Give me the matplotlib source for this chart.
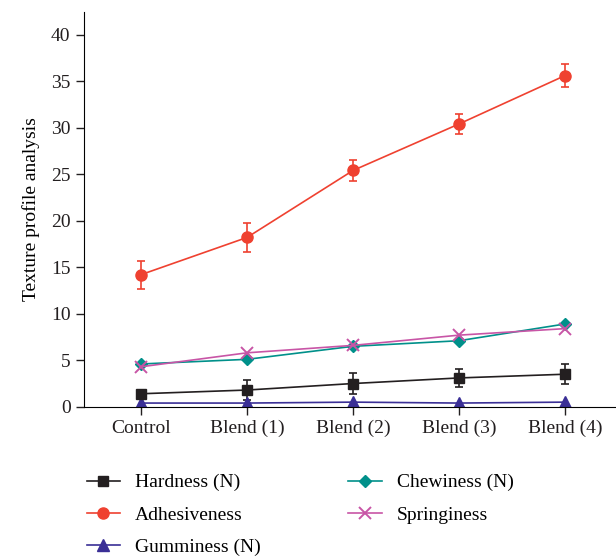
import matplotlib
matplotlib.use("Agg")
import matplotlib.pyplot as plt
from matplotlib.lines import Line2D

categories = ["Control", "Blend (1)", "Blend (2)", "Blend (3)", "Blend (4)"]

hardness = [1.4, 1.8, 2.5, 3.1, 3.5]
hardness_err = [0.3, 1.05, 1.1, 1.0, 1.1]
adhesiveness = [14.2, 18.2, 25.4, 30.4, 35.6]
adhesiveness_err = [1.5, 1.6, 1.1, 1.1, 1.2]
gumminess = [0.4, 0.4, 0.5, 0.4, 0.5]
chewiness = [4.6, 5.1, 6.5, 7.1, 8.9]
springiness = [4.3, 5.8, 6.6, 7.7, 8.4]

plt.rcParams["font.family"] = ["Liberation Serif", "DejaVu Serif"]
plt.rcParams["font.size"] = 14

fig = plt.figure(figsize=(6.16, 5.58), dpi=100)
ax = fig.add_axes([0.136, 0.271, 0.864, 0.707])

x = list(range(len(categories)))
styles = [
    ("Hardness (N)", "#231f20", "s", 7, {}),
    ("Adhesiveness", "#ef4130", "o", 8, {}),
    ("Gumminess (N)", "#3a2f96", "^", 8, {}),
    ("Chewiness (N)", "#00908a", "D", 6.5, {}),
    ("Springiness", "#c855a6", "x", 8, {"mew": 1.4}),
]
data = [hardness, adhesiveness, gumminess, chewiness, springiness]
errs = [hardness_err, adhesiveness_err, None, None, None]

handles = []
for (label, color, marker, ms, extra), y, e in zip(styles, data, errs):
    if e is not None:
        ax.errorbar(x, y, yerr=e, color=color, marker=marker, ms=ms, lw=1.2,
                    capsize=3, elinewidth=1.2, capthick=1.2, **extra)
    else:
        ax.plot(x, y, color=color, marker=marker, ms=ms, lw=1.2, **extra)
    handles.append(Line2D([], [], color=color, marker=marker, ms=ms, lw=1.2,
                          label=label, **extra))

ax.set_xlim(-0.54, 4.48)
ax.set_ylim(0, 42.4)
ax.set_yticks(range(0, 41, 5))
ax.set_xticks(x)
ax.set_xticklabels(categories)
ax.set_ylabel("Texture profile analysis", labelpad=8)
ax.spines["top"].set_visible(False)
ax.spines["right"].set_visible(False)
ax.tick_params(direction="out", length=6, width=1, colors="#231f20", labelsize=14)

fig.legend(handles=handles, loc="upper left", bbox_to_anchor=(0.128, 0.165), ncol=2,
           frameon=False, fontsize=14, handlelength=1.7, handletextpad=0.8,
           columnspacing=4.5, labelspacing=0.75, borderaxespad=0)

fig.savefig("out.png", dpi=100)
